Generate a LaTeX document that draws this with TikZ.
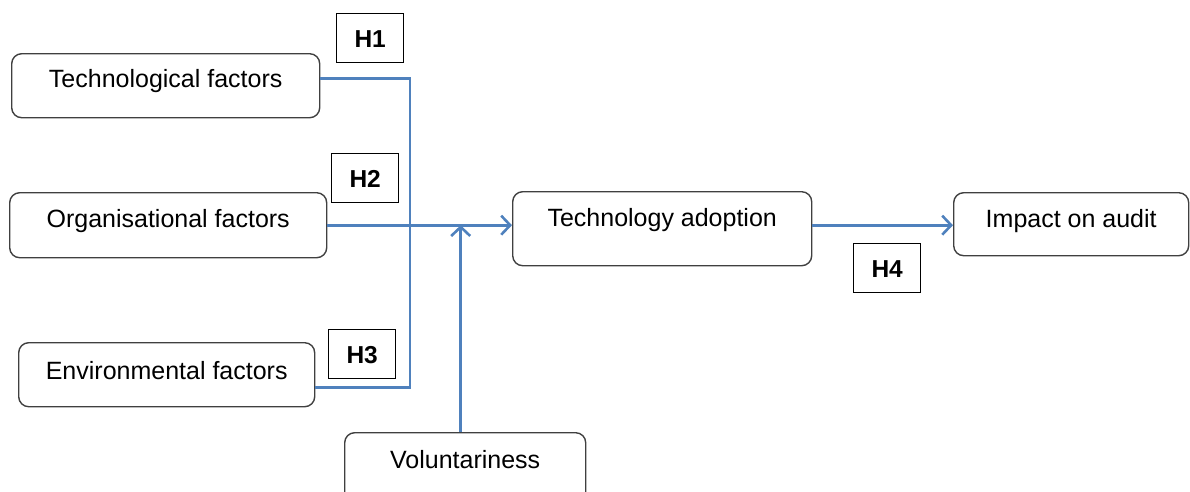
\documentclass[tikz,border=0pt]{standalone}
\usepackage{fontspec}
\setmainfont{Liberation Sans}
\usetikzlibrary{arrows.meta}
\definecolor{lineblue}{HTML}{4F81BD}
\definecolor{boxgray}{HTML}{404040}
\begin{document}
\begin{tikzpicture}[x=1pt,y=-1pt,
  fbox/.style={draw=boxgray, line width=1.4pt, rounded corners=10pt, inner sep=0pt, anchor=north west, font=\fontsize{25}{29}\selectfont},
  hbox/.style={draw=black, line width=1.4pt, inner sep=0pt, anchor=north west, minimum width=67pt, minimum height=49pt, text height=17.6pt, text depth=0pt, font=\fontsize{24.5}{28}\selectfont\bfseries},
  conn/.style={draw=lineblue, line width=2.6pt},
  arr/.style={conn, -{Straight Barb[length=9pt,width=19pt]}}]
\useasboundingbox (0,0) rectangle (1190,491);
\node[fbox, minimum width=308pt, text height=34pt, text depth=30pt] (tech) at (11,53) {Technological factors};
\node[fbox, minimum width=317pt, text height=35pt, text depth=30pt] (org) at (9,192) {Organisational factors};
\node[fbox, minimum width=296pt, text height=37pt, text depth=27pt] (env) at (18,342) {Environmental factors};
\node[fbox, minimum width=299pt, text height=35pt, text depth=39pt] (adopt) at (512,191) {Technology adoption};
\node[fbox, minimum width=235pt, text height=35pt, text depth=28pt] (impact) at (953,192) {Impact on audit};
\node[fbox, minimum width=241pt, text height=36pt, text depth=34pt] (vol) at (344,432) {Voluntariness};
\node[hbox] (h1) at (336,13) {H1};
\node[hbox] (h2) at (331,153) {H2};
\node[hbox] (h3) at (328,329) {H3};
\node[hbox] (h4) at (853,243) {H4};
\coordinate (bus) at (410,226);
\draw[conn] ([yshift=7pt]tech.east) -| (bus) |- ([yshift=-13pt]env.east);
\draw[arr] (org.east) -- (org.east -| adopt.west);
\draw[arr] ([xshift=-4.5pt]vol.north) -- ([xshift=-4.5pt]vol.north |- org.east);
\draw[arr] (adopt.east |- org.east) -- (impact.west |- org.east);
\end{tikzpicture}
\end{document}
